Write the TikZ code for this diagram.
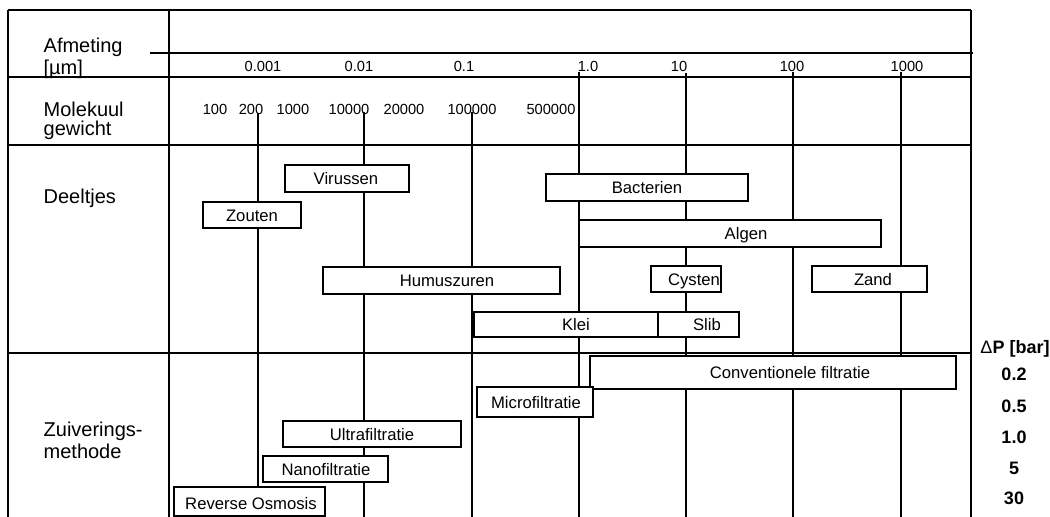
\documentclass[tikz,border=0pt]{standalone}
\usepackage{fontspec}
\setmainfont{Liberation Sans}
\newcommand\mybox[8]{%
  \node[box, minimum width={(#4-#2)*0.75pt}, minimum height={(#5-#3)*0.75pt}] (#1) at ({(#2+#4)/2},{(#3+#5)/2}) {};
  \node[btext] (#1-t) at (#6,#7) {#8};}
\begin{document}
\begin{tikzpicture}[x=0.75pt,y=-0.75pt, line width=1pt,
  box/.style={draw, fill=white, inner sep=0pt, line width=1pt},
  btext/.style={font=\fontsize{12.5}{14}\selectfont, anchor=base, inner sep=0pt},
  head/.style={font=\fontsize{15}{17}\selectfont, anchor=base west, inner sep=0pt},
  num/.style={font=\fontsize{11}{13}\selectfont, anchor=base, inner sep=0pt},
  dp/.style={font=\fontsize{13.5}{15}\selectfont\bfseries, anchor=base, inner sep=0pt}]
\useasboundingbox (0,0) rectangle (1050,517);
% frame
\draw (8,10) -- (971,10);
\draw (8,10) -- (8,517);
\draw (971,10) -- (971,517);
\draw (169,10) -- (169,517);
\draw (150,53) -- (973,53);
\draw (8,77) -- (971,77);
\draw (8,145) -- (971,145);
\draw (8,353) -- (971,353);
% vertical scale lines
\foreach \x/\y in {258/113, 364/112, 472/112, 579/72, 686/73, 793/72, 901/72}
  \draw (\x,\y) -- (\x,517);
% row headers
\node[head] (h1) at (43,53) {Afmeting};
\node[head] (h2) at (43,75) {[µm]};
\node[head] (h3) at (43,117) {Molekuul};
\node[head] (h4) at (43,136) {gewicht};
\node[head] (h5) at (43,203) {Deeltjes};
\node[head] (h6) at (43,436) {Zuiverings-};
\node[head] (h7) at (43,458) {methode};
% size scale
\foreach \x/\t [count=\i] in {263/0.001, 359/0.01, 464/0.1, 588/1.0, 679/10, 792/100, 907/1000}
  \node[num] (s\i) at (\x,72) {\t};
% molecular weight
\foreach \x/\t [count=\i] in {215/100, 251/200, 293/1000, 349/10000, 404/20000, 472/100000, 551/500000}
  \node[num] (m\i) at (\x,115) {\t};
% pressure column
\node[dp] (dp) at (1015,353) {{\mdseries Δ}P [bar]};
\foreach \y/\t [count=\i] in {380/0.2, 412/0.5, 443/1.0, 474/5, 504/30}
  \node[dp] (p\i) at (1014,\y) {\t};
% particle boxes
\mybox{virus}{285}{165}{409}{192}{346}{184.5}{Virussen}
\mybox{zout}{203}{202}{301}{228}{252}{221}{Zouten}
\mybox{humus}{323}{267}{560}{294}{447}{286.5}{Humuszuren}
\mybox{bact}{546}{174}{748}{201}{647}{193.5}{Bacterien}
\mybox{algen}{579}{220}{881}{247}{746}{239.5}{Algen}
\mybox{cyst}{651}{266}{721}{292}{694}{285}{Cysten}
\mybox{zand}{812}{266}{927}{292}{873}{285}{Zand}
\mybox{klei}{474}{312}{658}{337}{576}{330.5}{Klei}
\mybox{slib}{658}{312}{739}{337}{707}{330.5}{Slib}
% purification methods
\mybox{conv}{590}{356}{956}{389}{790}{378.5}{Conventionele filtratie}
\mybox{micro}{477}{387}{593}{417}{536}{408}{Microfiltratie}
\mybox{ultra}{283}{421}{461}{447}{372}{440}{Ultrafiltratie}
\mybox{nano}{263}{456}{388}{482}{326}{475}{Nanofiltratie}
\mybox{ro}{174}{487}{325}{516}{251}{509}{Reverse Osmosis}
\end{tikzpicture}
\end{document}
